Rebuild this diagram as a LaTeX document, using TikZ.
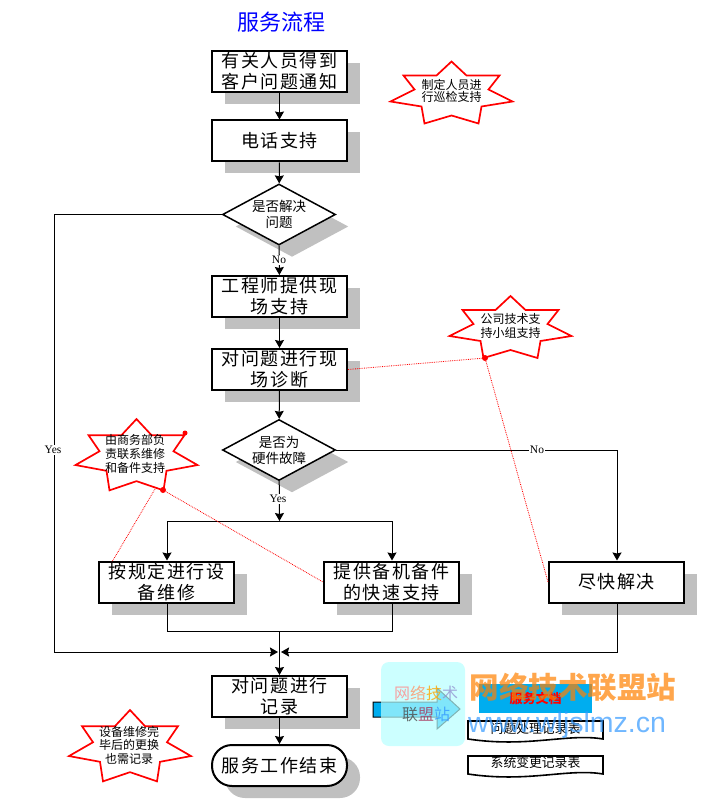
\documentclass[tikz,border=0pt]{standalone}
\usepackage{fontspec}
\usepackage{xcolor}
\usetikzlibrary{arrows.meta,shapes.geometric,shadows}
\newfontfamily\cjk{Noto Sans CJK SC}
\newfontfamily\boxcjk[LetterSpace=9]{Noto Sans CJK SC}
\newfontfamily\labelfont{Liberation Serif}
\newfontfamily\webfont{Liberation Sans}
\definecolor{shadowgray}{HTML}{C0C0C0}
\definecolor{markblue}{HTML}{3399FF}
\definecolor{markorange}{HTML}{FF8000}
\definecolor{palecyan}{HTML}{B7FFFF}
\tikzset{
flowshadow/.style={drop shadow={shadow xshift=13pt,shadow yshift=-12pt,fill=shadowgray,opacity=1}},
flowbox/.style={draw,line width=2pt,fill=white,flowshadow,minimum width=135pt,minimum height=41pt,inner sep=0pt,align=center,font=\fontsize{18}{21}\boxcjk},
flowend/.style={flowbox,rounded corners=20pt},
flowcheck/.style={diamond,draw,line width=1.5pt,fill=white,flowshadow,aspect=1.85,minimum width=113pt,minimum height=61pt,inner sep=0pt,align=center,font=\fontsize{13.5}{16}\cjk},
flowline/.style={line width=1pt},
flowarrow/.style={flowline,-{Stealth[length=8pt,width=9pt,inset=1pt]}},
yesno/.style={fill=white,inner sep=1pt,font=\fontsize{11.5}{13}\labelfont},
starline/.style={draw=red,line width=1.7pt,fill=white},
startext/.style={inner sep=0pt,align=center,font=\fontsize{12}{14}\cjk},
reddot/.style={circle,fill=red,inner sep=0pt,minimum size=6pt},
dotline/.style={red,line width=0.8pt,densely dotted},
docline/.style={draw,line width=1.6pt,fill=white},
doctext/.style={inner sep=0pt,font=\fontsize{12.8}{14}\cjk},
pics/redstar/.style={code={
\path[starline](0,-33)--(15,-19)--(48,-19)--(37,-5)--(61,7)--(30,12)--(27,29)--(0,21)--(-27,29)--(-30,12)--(-61,7)--(-37,-5)--(-48,-19)--(-15,-19)--cycle;
}},
pics/wavedoc/.style={code={
\path[docline](0,0)--(135,0)--(135,18).. controls (100,12) and (60,27) ..(0,18)--cycle;
}}
}
\begin{document}
\begin{tikzpicture}[x=1pt,y=-1pt]
\useasboundingbox (0,0) rectangle (701,802);
\node[text=blue,inner sep=0pt,font=\fontsize{22}{24}\cjk] (title) at (281,22) {服务流程};
\node[flowbox] (notice) at (279.5,71.5) {有关人员得到\\客户问题通知};
\node[flowbox] (phone) at (279.5,141) {电话支持};
\node[flowcheck] (solved) at (279,214.5) {是否解决\\问题};
\node[flowbox] (onsite) at (279.5,296.5) {工程师提供现\\场支持};
\node[flowbox] (diagnose) at (279.5,369.5) {对问题进行现\\场诊断};
\node[flowcheck] (hardware) at (279,450) {是否为\\硬件故障};
\node[flowbox] (repair) at (166.5,582) {按规定进行设\\备维修};
\node[flowbox] (spare) at (391.5,582) {提供备机备件\\的快速支持};
\node[flowbox] (fast) at (616.5,582) {尽快解决};
\node[flowbox] (record) at (279.5,696.5) {对问题进行\\记录};
\node[flowend] (finish) at (279.5,765.5) {服务工作结束};
\coordinate (splitT) at (279.5,521);
\coordinate (splitL) at (167,521);
\coordinate (splitR) at (392,521);
\coordinate (mergeL) at (167,631);
\coordinate (mergeR) at (392,631);
\coordinate (mergeC) at (279.5,631);
\coordinate (yesL) at (54,214.5);
\coordinate (yesB) at (54,652);
\coordinate (tipL) at (278,652);
\coordinate (tipR) at (281,652);
\coordinate (noR) at (617,450);
\coordinate (fastB) at (617,652);
\draw[flowarrow](notice)--(phone);
\draw[flowarrow](phone)--(solved);
\draw[flowarrow](solved)--(onsite);
\draw[flowarrow](onsite)--(diagnose);
\draw[flowarrow](diagnose)--(hardware);
\draw[flowarrow](hardware)--(splitT);
\draw[flowarrow](splitT)--(splitL)--(repair.north-|splitL);
\draw[flowarrow](splitT)--(splitR)--(spare.north-|splitR);
\draw[flowline](repair.south-|mergeL)--(mergeL)--(mergeR)--(spare.south-|mergeR);
\draw[flowarrow](mergeC)--(record);
\draw[flowarrow](record)--(finish);
\draw[flowarrow](solved.west)--(yesL)--(yesB)--(tipL);
\draw[flowarrow](hardware.east)--(noR)--(fast.north-|noR);
\draw[flowarrow](fast.south-|fastB)--(fastB)--(tipR);
\node[yesno] (solvedno) at (279,260) {No};
\node[yesno] (solvedyes) at (53,450) {Yes};
\node[yesno] (hardwareyes) at (278,499) {Yes};
\node[yesno] (hardwareno) at (537,450) {No};
\pic at (451.5,94.5) {redstar};
\pic at (510.5,329) {redstar};
\pic[yscale=1.15] at (136.5,457) {redstar};
\pic[yscale=1.15] at (130,748) {redstar};
\node[startext,font=\fontsize{12}{12.5}\cjk] (patrol) at (451.5,91) {制定人员进\\行巡检支持};
\node[startext] (support) at (510.5,326) {公司技术支\\持小组支持};
\node[startext] (sales) at (135,454) {由商务部负\\责联系维修\\和备件支持};
\node[startext,font=\fontsize{12}{13.5}\cjk] (change) at (129,745) {设备维修完\\毕后的更换\\也需记录};
\node[reddot] (dotsupport) at (485,358) {};
\node[reddot,minimum size=5pt] (dotsalesT) at (185,433) {};
\node[reddot] (dotsalesB) at (163,490) {};
\coordinate (salesL) at (155,489);
\coordinate (repairT) at (112,562);
\draw[dotline](diagnose.east)--(dotsupport);
\draw[dotline](dotsupport)--(fast.west);
\draw[dotline](dotsalesB)--(spare.west);
\draw[dotline](salesL)--(repairT);
\draw[black,line width=1pt,fill=cyan](373,702)--(437,702)--(437,688)--(460,709)--(437,729)--(437,717)--(373,717)--cycle;
\fill[cyan](479,684) rectangle (592,713);
\node[text=red,inner sep=0pt,font=\fontsize{13}{14}\bfseries\cjk] (docs) at (535.5,698) {服务文档};
\pic at (468,721) {wavedoc};
\pic at (468,756) {wavedoc};
\node[doctext] (problem) at (535.5,729) {问题处理记录表};
\node[doctext] (changes) at (535.5,763) {系统变更记录表};
\fill[palecyan,fill opacity=0.7,rounded corners=8pt](381,662) rectangle (465,746);
\node[inner sep=0pt,font=\fontsize{16}{21}\cjk,text opacity=0.8,align=center] (markcn) at (426,703.5) {\textcolor{red!45}{网}\textcolor{red!40!orange!60}{络}\textcolor{orange!70!yellow}{技}\textcolor{blue!40!gray!60}{术}\\\textcolor{black!70}{联}\textcolor{purple!60!gray}{盟}\textcolor{markblue}{站}};
\node[inner sep=0pt,text=markorange,text opacity=0.7,font=\fontsize{29.5}{32}\bfseries\cjk] (markname) at (573,687) {网络技术联盟站};
\node[inner sep=0pt,text=markblue,text opacity=0.7,font=\fontsize{28.5}{32}\webfont] (markurl) at (567,725) {www.wljslmz.cn};
\end{tikzpicture}
\end{document}
